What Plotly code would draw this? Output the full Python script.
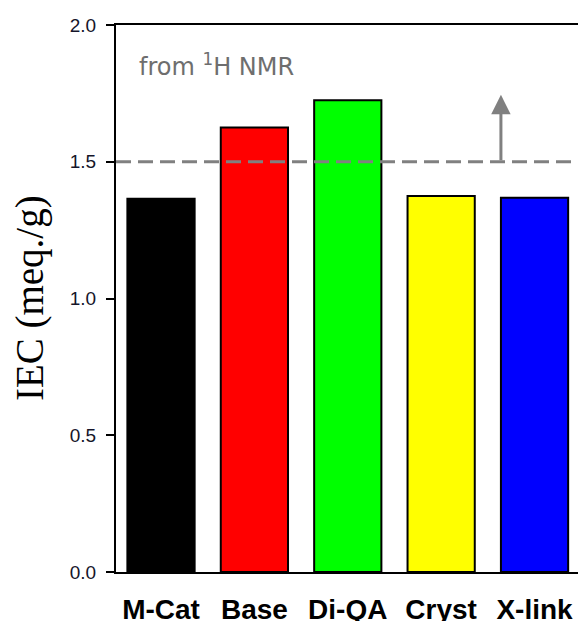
import plotly.graph_objects as go

categories = ["M-Cat", "Base", "Di-QA", "Cryst", "X-link"]
iec_values = [1.365, 1.625, 1.725, 1.375, 1.368]
bar_colors = ["#000000", "#ff0000", "#00ff00", "#ffff00", "#0000ff"]
y_ticks = [0.0, 0.5, 1.0, 1.5, 2.0]
y_ticklabels = ["0.0", "0.5", "1.0", "1.5", "2.0"]
nmr_iec = 1.5
arrow_top = 1.745
arrow_x = 3.64

fig = go.Figure()
fig.add_trace(go.Bar(
    x=categories, y=iec_values,
    marker=dict(color=bar_colors, line=dict(color="#000000", width=2)),
    width=0.72,
))

fig.add_shape(type="line", xref="paper", yref="y", x0=0, x1=1, y0=nmr_iec, y1=nmr_iec,
              line=dict(color="#808080", width=3, dash="15px,7px"))

fig.add_annotation(x=arrow_x, y=arrow_top, ax=arrow_x, ay=nmr_iec, xref="x", yref="y",
                   axref="x", ayref="y", showarrow=True, arrowhead=2, arrowsize=1.3,
                   arrowwidth=3, arrowcolor="#808080", text="")

fig.add_annotation(x=-0.26, y=1.855, xref="x", yref="y", xanchor="left", yanchor="middle",
                   text="from <sup>1</sup>H NMR", showarrow=False,
                   font=dict(family="DejaVu Sans", size=24, color="#6e6e6e"))

fig.add_annotation(x=-0.185, y=0.5, xref="paper", yref="paper", textangle=-90,
                   text="IEC (meq./g)", showarrow=False, xanchor="center", yanchor="middle",
                   font=dict(family="Liberation Serif", size=39, color="#000000"))

fig.update_layout(
    width=578, height=613,
    margin=dict(l=108, r=3, t=17, b=49),
    paper_bgcolor="white", plot_bgcolor="white",
    showlegend=False,
    xaxis=dict(range=[-0.482, 4.519], showline=True, linecolor="black", linewidth=2,
               mirror=True, ticks="", showgrid=False, ticklabelstandoff=11, automargin=False,
               tickfont=dict(family="Liberation Sans", size=28, color="#000000", weight="bold")),
    yaxis=dict(range=[0, 2.0], tickvals=y_ticks, ticktext=y_ticklabels,
               showline=True, linecolor="black", linewidth=2, mirror=True,
               ticks="outside", ticklen=8, tickwidth=2, tickcolor="black",
               showgrid=False, zeroline=False, ticklabelstandoff=6, automargin=False,
               tickfont=dict(family="Liberation Sans", size=19, color="#15152a")),
)

fig.write_html("out.html")
